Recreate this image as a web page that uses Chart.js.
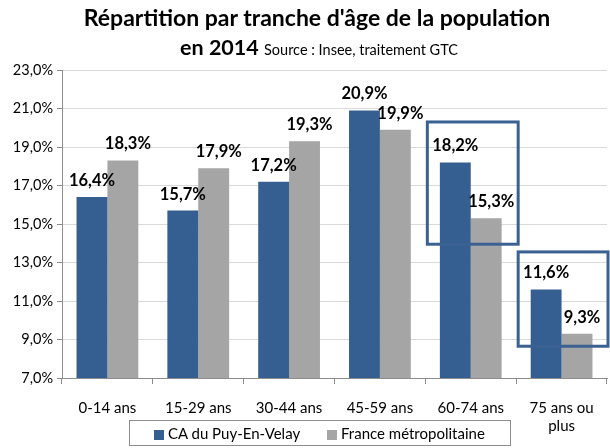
<!DOCTYPE html>
<html>
<head>
<meta charset="utf-8">
<script src="https://cdn.jsdelivr.net/npm/chart.js@4.4.1/dist/chart.umd.min.js"></script>
<style>
  html, body { margin: 0; padding: 0; background: #fff; }
  #wrap { position: relative; width: 610px; height: 448px; }
  .titre { position: absolute; left: 0; width: 610px; text-align: center; font-family: Lato, "Open Sans", sans-serif; color: #000; white-space: nowrap; }
  #t1 { top: 3px; font-size: 23px; font-weight: bold; left: 12px; }
  #t2 { top: 34px; font-size: 21.5px; font-weight: bold; left: 14px; }
  #t2 span { font-size: 14.5px; font-weight: normal; }
  #legende { position: absolute; left: 129px; top: 420px; width: 380px; height: 24px; border: 1px solid #8C8C8C;
             font-family: Lato, "Open Sans", sans-serif; font-size: 15px; color: #000; }
  .item { position: absolute; top: 3px; line-height: 18px; white-space: nowrap; }
  .carre { display: inline-block; width: 10px; height: 10px; margin-right: 4px; vertical-align: -1px; }
</style>
</head>
<body>
<div id="wrap">
  <canvas id="graphique" width="610" height="448"></canvas>
  <div class="titre" id="t1">Répartition par tranche d'âge de la population</div>
  <div class="titre" id="t2">en 2014 <span>Source : Insee, traitement GTC</span></div>
  <div id="legende"></div>
</div>
<script>
// Données
const tranches = ['0-14 ans', '15-29 ans', '30-44 ans', '45-59 ans', '60-74 ans', ['75 ans ou', 'plus']];
const caPuy = [16.4, 15.7, 17.2, 20.9, 18.2, 11.6];
const franceMetro = [18.3, 17.9, 19.3, 19.9, 15.3, 9.3];
const graduations = [7, 9, 11, 13, 15, 17, 19, 21, 23];

// Cadres bleus (catégorie, valeur haute, valeur basse)
const cadres = [
    { cat: 4, haut: 20.3, bas: 13.95 },
    { cat: 5, haut: 13.55, bas: 8.65 }
];

const BLEU = '#365F91';
const GRIS = '#A5A5A5';
const POLICE = 'Lato, "Open Sans", sans-serif';

const fmt = v => v.toFixed(1).replace('.', ',') + '%';

// Étiquettes au-dessus des barres (décalage horizontal par série)
const decalages = [0, 5];
const pluginEtiquettes = {
    id: 'etiquettes',
    afterDatasetsDraw(chart) {
        const ctx = chart.ctx;
        ctx.save();
        ctx.font = 'bold 16.5px ' + POLICE;
        ctx.fillStyle = '#000';
        ctx.textAlign = 'center';
        ctx.textBaseline = 'alphabetic';
        chart.data.datasets.forEach((ds, i) => {
            chart.getDatasetMeta(i).data.forEach((bar, j) => {
                ctx.fillText(fmt(ds.data[j]), bar.x + decalages[i], bar.y - 11);
            });
        });
        ctx.restore();
    }
};

// Cadres de mise en évidence
const pluginCadres = {
    id: 'cadres',
    afterDraw(chart) {
        const ctx = chart.ctx;
        const x = chart.scales.x, y = chart.scales.y;
        const demi = (x.getPixelForTick(1) - x.getPixelForTick(0)) / 2;
        ctx.save();
        ctx.strokeStyle = '#3A6192';
        ctx.lineWidth = 3;
        cadres.forEach(c => {
            const cx = x.getPixelForValue(c.cat);
            const l = cx - demi + 2;
            const r = Math.min(cx + demi + 2, chart.width - 2);
            ctx.strokeRect(l, y.getPixelForValue(c.haut), r - l, y.getPixelForValue(c.bas) - y.getPixelForValue(c.haut));
        });
        ctx.restore();
    }
};

const graphique = new Chart(document.getElementById('graphique'), {
    type: 'bar',
    data: {
        labels: tranches,
        datasets: [
            { label: 'CA du Puy-En-Velay', data: caPuy, backgroundColor: BLEU },
            { label: 'France métropolitaine', data: franceMetro, backgroundColor: GRIS }
        ]
    },
    options: {
        responsive: false,
        animation: false,
        categoryPercentage: 0.68,
        barPercentage: 1,
        layout: { padding: { top: 70, right: 3, left: 0, bottom: 0 } },
        plugins: {
            legend: { display: false },
            tooltip: { enabled: false }
        },
        scales: {
            x: {
                afterFit(s) { s.height = 70; },
                grid: { display: true, offset: true, drawOnChartArea: false, tickLength: 6, color: '#8C8C8C' },
                border: { color: '#8C8C8C' },
                ticks: { color: '#000', font: { family: POLICE, size: 15, lineHeight: 1.2 }, padding: 15, maxRotation: 0 }
            },
            y: {
                min: 7, max: 23,
                afterBuildTicks(s) { s.ticks = graduations.map(v => ({ value: v })); },
                afterFit(s) { s.width = 62; },
                grid: { color: '#D9D9D9', tickLength: 5, tickColor: '#8C8C8C' },
                border: { color: '#8C8C8C' },
                ticks: { color: '#000', font: { family: POLICE, size: 14.5 }, padding: 4, callback: v => fmt(v) }
            }
        }
    },
    plugins: [pluginEtiquettes, pluginCadres]
});

// Légende construite à partir des séries
const divLegende = document.getElementById('legende');
const positionsLegende = [24, 197];
graphique.data.datasets.forEach((ds, i) => {
    divLegende.innerHTML += `<div class="item" style="left:${positionsLegende[i]}px"><span class="carre" style="background:${ds.backgroundColor}"></span>${ds.label}</div>`;
});
</script>
</body>
</html>
